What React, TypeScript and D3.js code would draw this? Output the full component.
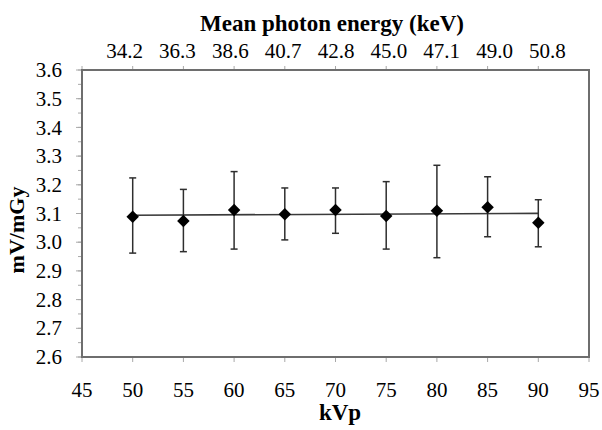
import React, { useEffect, useRef } from "react";
import * as d3 from "d3";

// kVp settings and measured response (mV/mGy) with error bar extents
const kvp = [50, 55, 60, 65, 70, 75, 80, 85, 90];
const meanVals = [3.089, 3.074, 3.112, 3.097, 3.112, 3.091, 3.110, 3.122, 3.068];
const errHigh = [3.224, 3.184, 3.246, 3.189, 3.189, 3.211, 3.268, 3.228, 3.148];
const errLow = [2.962, 2.967, 2.976, 3.008, 3.031, 2.976, 2.946, 3.019, 2.984];

// mean photon energy labels along the top
const energyLabels = ["34.2", "36.3", "38.6", "40.7", "42.8", "45.0", "47.1", "49.0", "50.8"];

const xTickVals = [45, 50, 55, 60, 65, 70, 75, 80, 85, 90, 95];
const yTickVals = [2.6, 2.7, 2.8, 2.9, 3.0, 3.1, 3.2, 3.3, 3.4, 3.5, 3.6];

const FONT = "'Liberation Serif', 'Times New Roman', Times, serif";
const AXIS = "#6e6e6e";
const TICK = "#a8a8a8";

function drawChart(node: SVGSVGElement) {
    const width = 602;
    const height = 430;
    const left = 82, right = 589, top = 70, bottom = 357;

    const svg = d3.select(node);
    svg.selectAll("*").remove();

    const x = d3.scaleLinear().domain([45, 95]).range([left, right]);
    const y = d3.scaleLinear().domain([2.6, 3.6]).range([bottom, top]);

    // minor + major ticks on left
    svg.append("g")
        .selectAll("line")
        .data(y.ticks(20))
        .enter()
        .append("line")
        .attr("x1", left - 4)
        .attr("x2", left)
        .attr("y1", d => y(d))
        .attr("y2", d => y(d))
        .attr("stroke", TICK)
        .attr("stroke-width", 1);

    svg.append("g")
        .selectAll("line")
        .data(yTickVals)
        .enter()
        .append("line")
        .attr("x1", left - 6)
        .attr("x2", left)
        .attr("y1", d => y(d))
        .attr("y2", d => y(d))
        .attr("stroke", TICK)
        .attr("stroke-width", 1);

    // y tick labels
    svg.append("g")
        .selectAll("text")
        .data(yTickVals)
        .enter()
        .append("text")
        .attr("x", left - 20)
        .attr("y", d => y(d))
        .attr("dy", "0.34em")
        .attr("text-anchor", "end")
        .attr("font-family", FONT)
        .attr("font-size", 21)
        .text(d => d3.format(".1f")(d));

    // bottom ticks + labels
    svg.append("g")
        .selectAll("line")
        .data(xTickVals)
        .enter()
        .append("line")
        .attr("x1", d => x(d))
        .attr("x2", d => x(d))
        .attr("y1", bottom)
        .attr("y2", bottom + 5)
        .attr("stroke", TICK)
        .attr("stroke-width", 1);

    svg.append("g")
        .selectAll("text")
        .data(xTickVals)
        .enter()
        .append("text")
        .attr("x", d => x(d))
        .attr("y", 397)
        .attr("text-anchor", "middle")
        .attr("font-family", FONT)
        .attr("font-size", 21)
        .text(d => d);

    // top ticks
    svg.append("g")
        .selectAll("line")
        .data(xTickVals.slice(0, -1))
        .enter()
        .append("line")
        .attr("x1", d => x(d))
        .attr("x2", d => x(d))
        .attr("y1", top - 4)
        .attr("y2", top)
        .attr("stroke", TICK)
        .attr("stroke-width", 1);

    // top energy labels (typed row, slightly wider than the kVp spacing)
    const energyScale = d3.scalePoint()
        .domain(energyLabels)
        .range([x(49.2), x(90.9)]);

    svg.append("g")
        .selectAll("text")
        .data(energyLabels)
        .enter()
        .append("text")
        .attr("x", d => energyScale(d) as number)
        .attr("y", 58)
        .attr("text-anchor", "middle")
        .attr("font-family", FONT)
        .attr("font-size", 21)
        .text(d => d);

    // plot frame
    svg.append("rect")
        .attr("x", left)
        .attr("y", top)
        .attr("width", right - left)
        .attr("height", bottom - top)
        .attr("fill", "none")
        .attr("stroke", AXIS)
        .attr("stroke-width", 2);

    // linear trend line (least squares on the means)
    const mx = d3.mean(kvp) as number;
    const my = d3.mean(meanVals) as number;
    const slope = d3.sum(kvp, (k, i) => (k - mx) * (meanVals[i] - my)) / d3.sum(kvp, k => (k - mx) * (k - mx));
    const xEnds = d3.extent(kvp) as [number, number];
    const trend = xEnds.map(k => [k, my + slope * (k - mx)] as [number, number]);

    svg.append("path")
        .datum(trend)
        .attr("d", d3.line<[number, number]>().x(d => x(d[0])).y(d => y(d[1])))
        .attr("fill", "none")
        .attr("stroke", "#3a3a3a")
        .attr("stroke-width", 1.6);

    // error bars
    const pts = kvp.map((k, i) => ({ k, m: meanVals[i], hi: errHigh[i], lo: errLow[i] }));
    const eb = svg.append("g")
        .attr("stroke", "#2e2e2e")
        .attr("stroke-width", 1.5);

    eb.selectAll(".stem")
        .data(pts)
        .enter()
        .append("line")
        .attr("x1", d => x(d.k))
        .attr("x2", d => x(d.k))
        .attr("y1", d => y(d.hi))
        .attr("y2", d => y(d.lo));

    eb.selectAll(".capHi")
        .data(pts)
        .enter()
        .append("line")
        .attr("x1", d => x(d.k) - 3.5)
        .attr("x2", d => x(d.k) + 3.5)
        .attr("y1", d => y(d.hi))
        .attr("y2", d => y(d.hi));

    eb.selectAll(".capLo")
        .data(pts)
        .enter()
        .append("line")
        .attr("x1", d => x(d.k) - 3.5)
        .attr("x2", d => x(d.k) + 3.5)
        .attr("y1", d => y(d.lo))
        .attr("y2", d => y(d.lo));

    // diamond markers
    const diamond = d3.symbol().type(d3.symbolSquare).size(78)();
    svg.append("g")
        .selectAll("path")
        .data(pts)
        .enter()
        .append("path")
        .attr("d", diamond as string)
        .attr("transform", d => `translate(${x(d.k)}, ${y(d.m)}) rotate(45)`)
        .attr("fill", "#000");

    // axis titles
    svg.append("text")
        .attr("x", 332)
        .attr("y", 31)
        .attr("text-anchor", "middle")
        .attr("font-family", FONT)
        .attr("font-weight", "bold")
        .attr("font-size", 23)
        .text("Mean photon energy (keV)");

    svg.append("text")
        .attr("x", 340)
        .attr("y", 420)
        .attr("text-anchor", "middle")
        .attr("font-family", FONT)
        .attr("font-weight", "bold")
        .attr("font-size", 23)
        .text("kVp");

    svg.append("text")
        .attr("transform", `translate(24, 230) rotate(-90)`)
        .attr("text-anchor", "middle")
        .attr("font-family", FONT)
        .attr("font-weight", "bold")
        .attr("font-size", 22)
        .text("mV/mGy");

    svg.attr("width", width).attr("height", height);
}

export default function App() {
    const ref = useRef<SVGSVGElement>(null);

    useEffect(() => {
        if (ref.current) drawChart(ref.current);
    }, []);

    return (
        <svg
            ref={ref}
            width={602}
            height={430}
            style={{ position: "absolute", left: 0, top: 0, background: "#fff" }}
        />
    );
}
